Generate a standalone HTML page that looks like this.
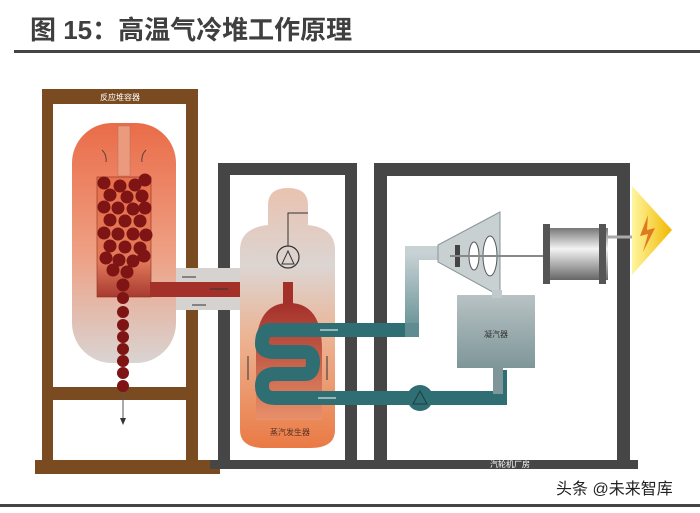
<!DOCTYPE html>
<html><head><meta charset="utf-8"><style>
html,body{margin:0;padding:0;background:#fff;}
svg{display:block;}
text{font-family:"Liberation Sans","Noto Sans CJK SC",sans-serif;}
</style></head><body>
<svg width="700" height="513" viewBox="0 0 700 513" xmlns="http://www.w3.org/2000/svg">
<defs>
<linearGradient id="rv" x1="0" y1="0" x2="0" y2="1">
<stop offset="0" stop-color="#ea6c48"/><stop offset="0.55" stop-color="#eea084"/><stop offset="1" stop-color="#d9d4d2"/></linearGradient>
<linearGradient id="sg" x1="0" y1="0" x2="0" y2="1">
<stop offset="0" stop-color="#e9c2b0"/><stop offset="0.3" stop-color="#dcd5d2"/><stop offset="0.6" stop-color="#edb08e"/><stop offset="1" stop-color="#ea7a45"/></linearGradient>
<linearGradient id="red" x1="0" y1="0" x2="0" y2="1">
<stop offset="0" stop-color="#a4302a"/><stop offset="1" stop-color="#e8906a"/></linearGradient>
<linearGradient id="col" x1="0" y1="0" x2="0" y2="1">
<stop offset="0" stop-color="#e8704c"/><stop offset="0.7" stop-color="#e27a5a"/><stop offset="1" stop-color="#a83a30"/></linearGradient>
<linearGradient id="pipeg" x1="0" y1="0" x2="0" y2="1">
<stop offset="0" stop-color="#c8d2d4"/><stop offset="1" stop-color="#5e8c90"/></linearGradient>
<linearGradient id="cond" x1="0" y1="0" x2="0" y2="1">
<stop offset="0" stop-color="#b8c2c4"/><stop offset="1" stop-color="#7e9699"/></linearGradient>
<linearGradient id="gen" x1="0" y1="0" x2="0" y2="1">
<stop offset="0" stop-color="#777"/><stop offset="0.4" stop-color="#f4f4f4"/><stop offset="1" stop-color="#666"/></linearGradient>
<linearGradient id="bolt" x1="0" y1="0" x2="1" y2="0">
<stop offset="0" stop-color="#fff6a0"/><stop offset="1" stop-color="#f2b800"/></linearGradient>
</defs>

<text x="30" y="39" font-size="26" font-weight="bold" fill="#3f3f3f">图 15：高温气冷堆工作原理</text>
<rect x="14" y="50" width="686" height="3" fill="#444"/>

<!-- frames -->
<rect x="35" y="460" width="185" height="14" fill="#7a4a20"/>
<rect x="210" y="460" width="428" height="9" fill="#464646"/>
<rect x="42" y="89" width="11" height="375" fill="#7a4a20"/>
<rect x="186" y="89" width="12" height="375" fill="#7a4a20"/>
<rect x="42" y="89" width="156" height="15" fill="#7a4a20"/>
<rect x="42" y="387" width="156" height="13" fill="#7a4a20"/>
<text x="120" y="100" font-size="8" fill="#fff" text-anchor="middle">反应堆容器</text>

<rect x="218" y="163" width="12" height="300" fill="#464646"/>
<rect x="345" y="163" width="12" height="300" fill="#464646"/>
<rect x="218" y="163" width="139" height="12" fill="#464646"/>
<rect x="374" y="163" width="13" height="300" fill="#464646"/>
<rect x="617" y="163" width="13" height="300" fill="#464646"/>
<rect x="374" y="163" width="256" height="13" fill="#464646"/>
<text x="510" y="467" font-size="8" fill="#fff" text-anchor="middle">汽轮机厂房</text>

<!-- duct -->
<rect x="170" y="268" width="80" height="42" fill="#d6d2d0"/>
<line x1="182" y1="277" x2="196" y2="277" stroke="#333"/>
<line x1="192" y1="305" x2="206" y2="305" stroke="#333"/>
<!-- reactor vessel -->
<rect x="72" y="123" width="104" height="240" rx="40" fill="url(#rv)"/>
<rect x="118" y="126" width="12" height="50" fill="#eb9a7e" stroke="#b87060" stroke-width="0.5"/>
<rect x="97" y="177" width="54" height="120" fill="url(#col)" stroke="#8a3020" stroke-width="0.6"/>
<path d="M150 282 H293 V308 H283 V297 H150 Z" fill="#a4302a"/>
<line x1="210" y1="289" x2="228" y2="289" stroke="#333"/>
<path d="M102 150 q5 5 4 12 M146 150 q-5 5 -4 12" fill="none" stroke="#333" stroke-width="0.8"/>
<g fill="#7e1414">
<circle cx="104" cy="183" r="6.5"/><circle cx="120" cy="186" r="6.5"/><circle cx="135" cy="185" r="6.5"/><circle cx="145" cy="180" r="6.5"/>
<circle cx="110" cy="195" r="6.5"/><circle cx="127" cy="197" r="6.5"/><circle cx="142" cy="196" r="6.5"/>
<circle cx="104" cy="207" r="6.5"/><circle cx="118" cy="208" r="6.5"/><circle cx="133" cy="209" r="6.5"/><circle cx="145" cy="208" r="6.5"/>
<circle cx="110" cy="220" r="6.5"/><circle cx="125" cy="221" r="6.5"/><circle cx="140" cy="221" r="6.5"/>
<circle cx="104" cy="233" r="6.5"/><circle cx="118" cy="234" r="6.5"/><circle cx="133" cy="234" r="6.5"/><circle cx="146" cy="235" r="6.5"/>
<circle cx="110" cy="246" r="6.5"/><circle cx="125" cy="247" r="6.5"/><circle cx="140" cy="248" r="6.5"/>
<circle cx="106" cy="258" r="6.5"/><circle cx="119" cy="260" r="6.5"/><circle cx="133" cy="261" r="6.5"/><circle cx="144" cy="256" r="6.5"/>
<circle cx="113" cy="270" r="6.5"/><circle cx="127" cy="272" r="6.5"/>
<circle cx="123" cy="285" r="6.5"/><circle cx="123" cy="298" r="6"/><circle cx="123" cy="312" r="6"/><circle cx="123" cy="325" r="6"/>
<circle cx="123" cy="337" r="6"/><circle cx="123" cy="349" r="6"/><circle cx="123" cy="361" r="6"/><circle cx="123" cy="373" r="6"/><circle cx="123" cy="386" r="6"/>
</g>
<line x1="123" y1="392" x2="123" y2="420" stroke="#555" stroke-width="1"/>
<path d="M120 418 L123 425 L126 418 Z" fill="#333"/>

<!-- steam generator -->
<path d="M268 205 Q268 188 288 188 Q308 188 308 205 V225 Q335 228 335 250 V430 Q335 448 310 448 H265 Q240 448 240 430 V250 Q240 228 268 225 Z" fill="url(#sg)"/>
<path d="M283 282 H293 V308 H283 Z" fill="#a4302a"/>
<path d="M256 350 Q256 303 289 303 Q322 303 322 350 V420 H256 Z" fill="url(#red)"/>
<circle cx="288" cy="257" r="11" fill="none" stroke="#333" stroke-width="1.2"/>
<path d="M282 264 L288 251 L294 264 Z" fill="none" stroke="#333"/>
<path d="M288 246 V213 H308" fill="none" stroke="#333"/>
<line x1="248" y1="380" x2="248" y2="356" stroke="#333"/>
<line x1="327" y1="380" x2="327" y2="356" stroke="#333"/>
<!-- teal serpentine -->
<path d="M412 330 H270 Q262 330 262 344 Q262 352 275 352 H305 Q313 352 313 362 Q313 374 305 374 H275 Q262 374 262 386 Q262 398 275 398 H500 V370" fill="none" stroke="#2f6e73" stroke-width="14"/>
<path d="M412 337 V253 H445" fill="none" stroke="url(#pipeg)" stroke-width="14"/>
<rect x="405" y="323" width="14" height="14" fill="#5e8c90"/>
<line x1="320" y1="330" x2="338" y2="330" stroke="#fff"/>
<line x1="318" y1="398" x2="336" y2="398" stroke="#fff"/>
<circle cx="420" cy="398" r="13" fill="#2f6e73"/>
<path d="M413 404 L420 391 L427 404 Z" fill="none" stroke="#1e3c40"/>
<text x="290" y="435" font-size="8" fill="#5a3020" text-anchor="middle">蒸汽发生器</text>

<!-- turbine -->
<path d="M438 245 L500 212 V296 L438 262 Z" fill="#c8d0d2" stroke="#8a9698"/>
<rect x="457" y="295" width="78" height="73" fill="url(#cond)"/>
<rect x="492" y="290" width="10" height="8" fill="#c0cacc"/>
<rect x="493" y="368" width="10" height="26" fill="#7e9699"/>
<text x="496" y="337" font-size="8" fill="#333" text-anchor="middle">凝汽器</text>
<ellipse cx="474" cy="256" rx="5" ry="14" fill="#fff" stroke="#555"/>
<ellipse cx="490" cy="256" rx="7" ry="20" fill="#fff" stroke="#555"/>
<rect x="455" y="245" width="5" height="22" fill="#444"/>
<line x1="450" y1="256" x2="545" y2="256" stroke="#888" stroke-width="2"/>
<!-- generator -->
<rect x="546" y="228" width="62" height="52" fill="url(#gen)"/>
<rect x="543" y="224" width="7" height="60" fill="#555"/>
<rect x="599" y="224" width="7" height="60" fill="#555"/>
<line x1="608" y1="237" x2="632" y2="237" stroke="#aaa" stroke-width="3"/>
<path d="M632 186 L672 230 L632 275 Z" fill="url(#bolt)"/>
<path d="M648 215 L640 236 L648 234 L643 252 L655 228 L647 230 Z" fill="#e07a20"/>

<!-- watermark -->
<text x="556" y="494" font-size="16" fill="#222">头条 @未来智库</text>
<rect x="0" y="504" width="700" height="3" fill="#444"/>
</svg>
</body></html>
